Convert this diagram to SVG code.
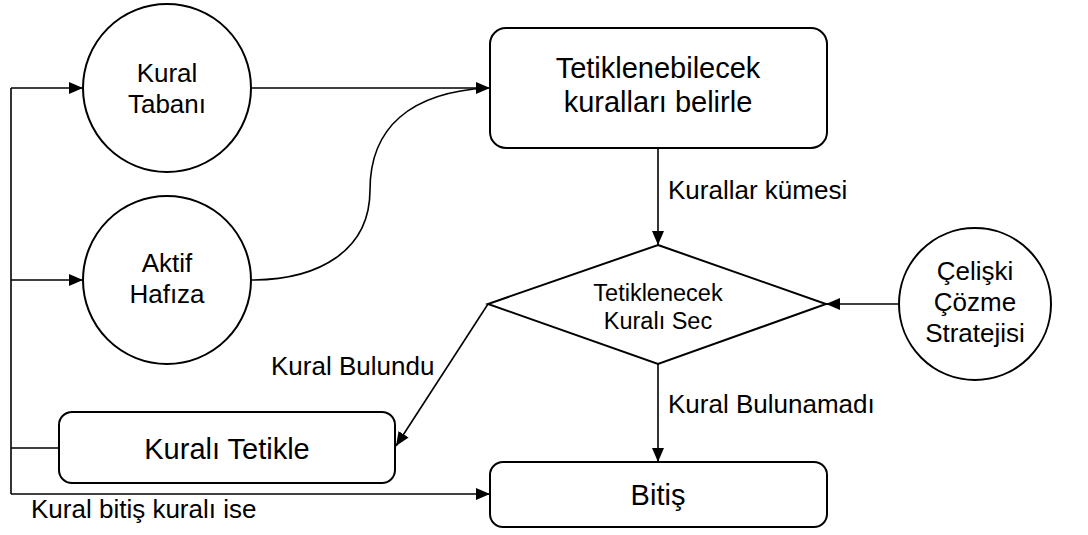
<svg xmlns="http://www.w3.org/2000/svg" width="1088" height="535" viewBox="0 0 1088 535">
  <style>
    .shape { fill: #ffffff; stroke: #000000; stroke-width: 2; }
    .link { fill: none; stroke: #000000; stroke-width: 1.6; }
    .t { font-family: "Liberation Sans", Arial, sans-serif; fill: #000000; }
    .big { font-size: 29px; }
    .mid { font-size: 26px; }
    .small { font-size: 23.5px; }
    .c { text-anchor: middle; }
  </style>
  <defs>
    <marker id="arrow" markerUnits="userSpaceOnUse" markerWidth="16" markerHeight="14" refX="14" refY="6" orient="auto">
      <path d="M0,0 L14,6 L0,12 Z" fill="#000000"/>
    </marker>
  </defs>

  <!-- connectors -->
  <g id="connectors">
    <path class="link" d="M11,88 L11,494" />
    <path class="link" d="M11,88 L83,88" marker-end="url(#arrow)"/>
    <path class="link" d="M11,280 L83,280" marker-end="url(#arrow)"/>
    <path class="link" d="M11,448 L59,448" stroke-width="3"/>
    <path class="link" d="M11,494 L490,494" marker-end="url(#arrow)"/>
    <path class="link" d="M251,88 L490,88" marker-end="url(#arrow)"/>
    <path class="link" d="M251,280 C320,280 370,250 370,190 C370,128 410,92 488,88"/>
    <path class="link" d="M658,148 L658,245" marker-end="url(#arrow)"/>
    <path class="link" d="M900,304 L826,304" marker-end="url(#arrow)"/>
    <path class="link" d="M658,364 L658,462" marker-end="url(#arrow)"/>
    <path class="link" d="M488,304 L396,446" marker-end="url(#arrow)"/>
    <text class="t mid" x="668" y="199">Kurallar kümesi</text>
    <text class="t mid" x="668" y="413">Kural Bulunamadı</text>
    <text class="t mid" x="271" y="375">Kural Bulundu</text>
    <text class="t mid" x="31" y="518">Kural bitiş kuralı ise</text>
  </g>

  <g id="kural-tabani">
    <circle class="shape" cx="167" cy="88" r="84"/>
    <text class="t mid c" x="167" y="82">Kural</text>
    <text class="t mid c" x="167" y="113">Tabanı</text>
  </g>

  <g id="aktif-hafiza">
    <circle class="shape" cx="167" cy="280" r="84"/>
    <text class="t mid c" x="167" y="272">Aktif</text>
    <text class="t mid c" x="167" y="303">Hafıza</text>
  </g>

  <g id="tetiklenebilecek">
    <rect class="shape" x="490" y="28" width="337" height="120" rx="16"/>
    <text class="t big c" x="658" y="78">Tetiklenebilecek</text>
    <text class="t big c" x="658" y="112">kuralları belirle</text>
  </g>

  <g id="kural-sec">
    <polygon class="shape" points="658,245 826,304 658,364 488,304"/>
    <text class="t small c" x="658" y="301">Tetiklenecek</text>
    <text class="t small c" x="658" y="329">Kuralı Sec</text>
  </g>

  <g id="celiski">
    <circle class="shape" cx="975" cy="304" r="76"/>
    <text class="t mid c" x="975" y="280">Çelişki</text>
    <text class="t mid c" x="975" y="311">Çözme</text>
    <text class="t mid c" x="975" y="342">Stratejisi</text>
  </g>

  <g id="kurali-tetikle">
    <rect class="shape" x="59" y="412" width="336" height="71" rx="13"/>
    <text class="t big c" x="227" y="459">Kuralı Tetikle</text>
  </g>

  <g id="bitis">
    <rect class="shape" x="490" y="462" width="337" height="65" rx="13"/>
    <text class="t big c" x="658" y="505">Bitiş</text>
  </g>
</svg>
